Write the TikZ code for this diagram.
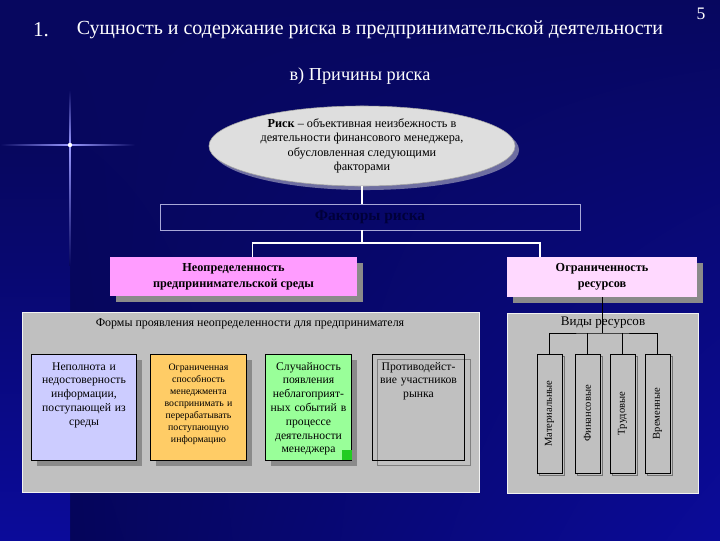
\documentclass[tikz,border=0pt]{standalone}
\usepackage{fontspec}
\setmainfont{Liberation Serif}
\usepackage{tikz}
\usetikzlibrary{positioning, shapes.geometric, shadows, shadings}
\definecolor{Navy}{HTML}{07075F}
\definecolor{NavyDark}{HTML}{05055A}
\definecolor{NavyLight}{HTML}{0B0B9A}
\definecolor{PanelGray}{HTML}{C0C0C0}
\definecolor{ShadowGray}{HTML}{8A8A8A}
\definecolor{EllGray}{HTML}{DEDEDE}
\definecolor{PinkDark}{HTML}{FF9CFF}
\definecolor{PinkLight}{HTML}{FFD9FF}
\definecolor{Lilac}{HTML}{CCCCFF}
\definecolor{Apricot}{HTML}{FFCC66}
\definecolor{Mint}{HTML}{99FF99}
\definecolor{MintDark}{HTML}{22CC22}
\definecolor{FrameBlue}{HTML}{A8A8D8}
\definecolor{TextNavy}{HTML}{00003A}
\tikzset{
  conn/.style={white, line width=0.8pt},
  treeline/.style={black, line width=0.6pt},
  shade box/.style={drop shadow={shadow xshift=0.14cm, shadow yshift=-0.14cm, fill=ShadowGray, opacity=1}},
  pinkbox/.style={
    rectangle, fill=#1, align=center, inner sep=2pt,
    font=\fontsize{8.7}{11.5}\selectfont\bfseries, shade box
  },
  panel/.style={rectangle, fill=PanelGray, draw=white!80!PanelGray, line width=0.6pt},
  formbox/.style={
    rectangle, draw=black, line width=0.6pt, fill=#1,
    align=center, inner sep=3pt, text height=0.3cm, text depth=2.14cm,
    font=\fontsize{8.3}{9.8}\selectfont
  },
  resbox/.style={
    rectangle, draw=black, line width=0.6pt, fill=PanelGray,
    minimum width=0.625cm, minimum height=2.975cm, inner sep=0pt,
    font=\fontsize{7.5}{9}\selectfont,
    general shadow={shadow xshift=0.06cm, shadow yshift=-0.06cm, draw=black!55, line width=0.5pt}
  },
}

\begin{document}
\begin{tikzpicture}[x=0.025cm, y=-0.025cm]

% background
\fill[Navy] (0,0) rectangle (720,540);
\shade[upper left=Navy, upper right=Navy, lower left=NavyDark, lower right=NavyLight] (70,0) rectangle (720,540);
\shade[top color=Navy, bottom color=NavyLight] (0,150) rectangle (70,540);
\useasboundingbox (0,0) rectangle (720,540);

% star
\shade[top color=Navy, bottom color=blue!40!white] (69.2,90) rectangle (70.8,145);
\shade[top color=blue!40!white, bottom color=Navy] (69.2,145) rectangle (70.8,265);
\shade[left color=Navy, right color=blue!40!white] (0,144.2) rectangle (70,145.8);
\shade[left color=blue!40!white, right color=Navy] (70,144.2) rectangle (135,145.8);
\fill[white] (70,145) circle (2.2);

% headings
\node[white, font=\fontsize{15}{18}\selectfont] (num) at (41,30) {1.};
\node[white, font=\fontsize{14.2}{17}\selectfont] (title) at (370,30)
  {Сущность и содержание риска в предпринимательской деятельности};
\node[white, font=\fontsize{12.5}{15}\selectfont] (page) at (701,14) {5};
\node[white, font=\fontsize{13}{16}\selectfont] (sub) at (360,76) {в) Причины риска};

% definition
\node[ellipse, fill=EllGray, draw=gray!70, line width=0.4pt,
  minimum width=7.65cm, minimum height=2cm, inner sep=0pt, align=center,
  font=\fontsize{8.7}{10.3}\selectfont,
  drop shadow={shadow xshift=0.1cm, shadow yshift=-0.1cm, fill=ShadowGray!80!blue, opacity=1}]
  (risk) at (362,146) {
  \textbf{Риск} -- объективная неизбежность в\\
  деятельности финансового менеджера,\\
  обусловленная следующими\\
  факторами
};

\node[rectangle, draw=FrameBlue, line width=0.6pt, minimum width=10.5cm, minimum height=0.65cm,
  text=TextNavy, font=\fontsize{11}{13}\selectfont\bfseries] (fact) at (370,217) {Факторы риска};

% factor boxes
\node[pinkbox=PinkDark, minimum width=6.175cm, minimum height=0.975cm] (unc) at (233.5,276.5)
  {Неопределенность\\предпринимательской среды};
\node[pinkbox=PinkLight, minimum width=4.75cm, minimum height=1cm] (lim) at (602,277)
  {Ограниченность\\ресурсов};

\coordinate (split) at (362,243);
\draw[conn] (risk.south) -- (risk.south |- fact.north);
\draw[conn] (risk.south |- fact.south) -- (split);
\draw[conn] ([xshift=0.475cm]unc.north) |- (split) -| ([xshift=-1.55cm]lim.north);

% panels
\node[panel, minimum width=11.425cm, minimum height=4.5cm] (forms) at (250.5,402) {};
\node[panel, minimum width=4.775cm, minimum height=4.5cm] (kinds) at (602.5,403) {};
\node[font=\fontsize{8.5}{10}\selectfont] (formslbl) at (250,324)
  {Формы проявления неопределенности для предпринимателя};
\node[font=\fontsize{9.3}{11}\selectfont] (kindslbl) at (603,323) {Виды ресурсов};

% forms of uncertainty
\node[formbox=Lilac, text width=2.4cm, shade box] (f1) at (84,407)
  {Неполнота и\\недостоверность\\информации,\\поступающей из\\среды};
\node[formbox=Apricot, text width=2.2cm, shade box, font=\fontsize{7}{8.6}\selectfont] (f2) at (198.5,407)
  {Ограниченная\\способность\\менеджмента\\воспринимать и\\перерабатывать\\поступающую\\информацию};
\node[formbox=Mint, text width=1.95cm, shade box] (f3) at (308.5,407)
  {Случайность\\появления\\неблагоприят-\\ных событий в\\процессе\\деятельности\\менеджера};
\fill[MintDark] ([xshift=-0.25cm]f3.south east) rectangle ([yshift=0.25cm]f3.south east);
\node[formbox=none, text width=2.1cm,
  general shadow={shadow xshift=0.13cm, shadow yshift=-0.14cm, draw=black!50, line width=0.5pt}] (f4) at (418.5,407)
  {Противодейст-\\вие участников\\рынка};

% kinds of resources
\node[resbox] (r1) at (549.5,413.5) {\rotatebox{90}{Материальные}};
\node[resbox] (r2) at (587.5,413.5) {\rotatebox{90}{Финансовые}};
\node[resbox] (r3) at (622.5,413.5) {\rotatebox{90}{Трудовые}};
\node[resbox] (r4) at (657.5,413.5) {\rotatebox{90}{Временные}};

\coordinate (tree) at (602,333);
\draw[treeline] (lim.south) -- (tree);
\draw[treeline] (r1.north) |- (tree) -| (r4.north);
\draw[treeline] (r2.north) -- (r2.north |- tree);
\draw[treeline] (r3.north) -- (r3.north |- tree);

\end{tikzpicture}
\end{document}
